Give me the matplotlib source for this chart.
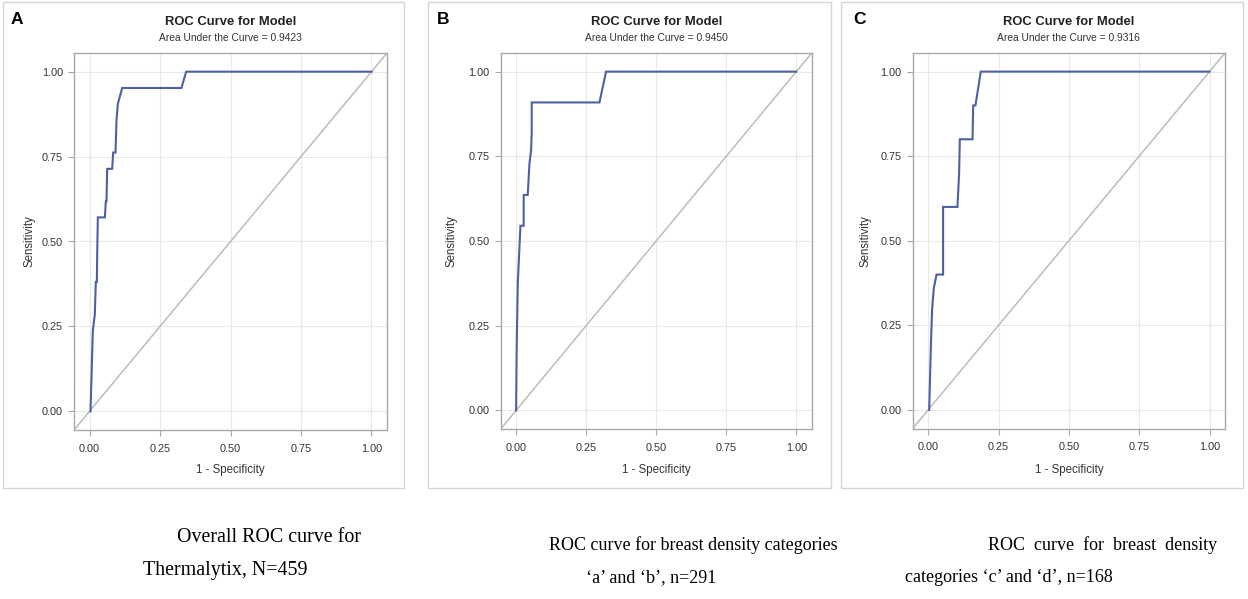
import matplotlib
matplotlib.use("Agg")
import matplotlib.pyplot as plt
from matplotlib.patches import Rectangle

# ---------------- data ----------------
panel_letters = ["A", "B", "C"]
auc_values = ["0.9423", "0.9450", "0.9316"]

fpr_a = [0.0035, 0.0118, 0.0189, 0.0205, 0.0225, 0.0260, 0.0275, 0.0296, 0.0544, 0.0580,
         0.0603, 0.0626, 0.0804, 0.0840, 0.0922, 0.0957, 0.1005, 0.1158, 0.3260, 0.3428, 1.0]
tpr_a = [0.000, 0.238, 0.286, 0.333, 0.381, 0.381, 0.476, 0.571, 0.571, 0.619,
         0.619, 0.714, 0.714, 0.762, 0.762, 0.857, 0.905, 0.952, 0.952, 1.000, 1.000]

fpr_b = [0.0, 0.002, 0.006, 0.0155, 0.027, 0.027, 0.0415, 0.0475, 0.0535, 0.0557, 0.0557,
         0.2975, 0.321, 1.0]
tpr_b = [0.0, 0.182, 0.376, 0.545, 0.545, 0.636, 0.636, 0.727, 0.768, 0.818, 0.909,
         0.909, 1.0, 1.0]

fpr_c = [0.0036, 0.010, 0.0142, 0.020, 0.0297, 0.053, 0.053, 0.104, 0.110, 0.1125,
         0.1576, 0.160, 0.168, 0.187, 1.0]
tpr_c = [0.0, 0.2, 0.3, 0.36, 0.4, 0.4, 0.6, 0.6, 0.7, 0.8,
         0.8, 0.9, 0.9, 1.0, 1.0]

tick_values = [0.0, 0.25, 0.5, 0.75, 1.0]
tick_labels = ["0.00", "0.25", "0.50", "0.75", "1.00"]

caption_lines = [
    ["Overall ROC curve for", "Thermalytix, N=459"],
    ["ROC curve for breast density categories", "\u2018a\u2019 and \u2018b\u2019, n=291"],
    ["ROC  curve  for  breast  density", "categories \u2018c\u2019 and \u2018d\u2019, n=168"],
]

curves = [(fpr_a, tpr_a), (fpr_b, tpr_b), (fpr_c, tpr_c)]

# ---------------- layout (pixels) ----------------
W, H = 1248, 599
fig = plt.figure(figsize=(W / 100, H / 100), dpi=100)
fig.patch.set_facecolor("white")

def fx(x):
    return x / W

def fy(y):
    return 1 - y / H

frames = [(3, 2, 404, 488), (428, 2, 831, 488), (841, 2, 1243, 488)]
axes_px = [(74, 53, 387, 430), (500.7, 53, 811.7, 429), (912.7, 53, 1225, 428.5)]
letter_x = [17, 443, 860]
ylabel_x = [30, 452, 866]
caption_pos = [
    [(176.7, 541.7, 14.4), (142.7, 575.0, 14.4)],
    [(549.0, 549.5, 13.0), (586.0, 582.5, 13.0)],
    [(988.0, 549.5, 13.0), (905.0, 582.5, 13.0)],
]

sans = ["Liberation Sans", "DejaVu Sans"]
serif = ["Liberation Serif", "DejaVu Serif"]

curve_color = "#4d61a0"
diag_color = "#bcbcbc"
grid_color = "#e9e9e9"
spine_color = "#a9a9a9"
text_color = "#333333"

for i in range(3):
    x0, y0, x1, y1 = frames[i]
    fig.patches.append(Rectangle((fx(x0), fy(y1)), fx(x1 - x0), (y1 - y0) / H,
                                 transform=fig.transFigure, fill=False,
                                 edgecolor="#d6d6d6", linewidth=1.0))
    ax0, ay0, ax1, ay1 = axes_px[i]
    ax = fig.add_axes([fx(ax0), fy(ay1), fx(ax1 - ax0), (ay1 - ay0) / H])
    lim = (-0.055, 1.055)
    ax.set_xlim(lim)
    ax.set_ylim(lim)
    ax.set_xticks(tick_values)
    ax.set_yticks(tick_values)
    ax.set_xticklabels(tick_labels, fontfamily=sans, fontsize=7.8, color=text_color)
    ax.set_yticklabels(tick_labels, fontfamily=sans, fontsize=7.8, color=text_color)
    ax.tick_params(axis="both", direction="out", length=4, width=0.8, color=spine_color)
    ax.tick_params(axis="x", pad=6)
    ax.tick_params(axis="y", pad=4)
    ax.grid(True, color=grid_color, linewidth=0.8)
    ax.set_axisbelow(True)
    for s in ax.spines.values():
        s.set_color(spine_color)
        s.set_linewidth(1.0)
    ax.plot([lim[0], lim[1]], [lim[0], lim[1]], color=diag_color, linewidth=1.1, zorder=2)
    fpr, tpr = curves[i]
    ax.plot(fpr, tpr, color=curve_color, linewidth=1.5, zorder=3, solid_joinstyle="miter")

    cx = (ax0 + ax1) / 2
    fig.text(fx(cx), fy(22), "ROC Curve for Model", ha="center", va="center",
             fontfamily=sans, fontsize=9.4, fontweight="bold", color="#222222")
    fig.text(fx(cx), fy(38), "Area Under the Curve = " + auc_values[i], ha="center",
             va="center", fontfamily=sans, fontsize=7.4, color=text_color)
    fig.text(fx(letter_x[i]), fy(19), panel_letters[i], ha="center", va="center",
             fontfamily=sans, fontsize=12.5, fontweight="bold", color="black")
    fig.text(fx(ylabel_x[i]), fy(241), "Sensitivity", rotation=90, ha="center",
             va="center", fontfamily=sans, fontsize=8.3, color=text_color)
    fig.text(fx(cx), fy(470), "1 - Specificity", ha="center", va="center",
             fontfamily=sans, fontsize=8.3, color=text_color)

    for line, (tx, ty, fs) in zip(caption_lines[i], caption_pos[i]):
        fig.text(fx(tx), fy(ty), line, ha="left", va="baseline",
                 fontfamily=serif, fontsize=fs, color="black")

fig.savefig("out.png", dpi=100, facecolor="white")
